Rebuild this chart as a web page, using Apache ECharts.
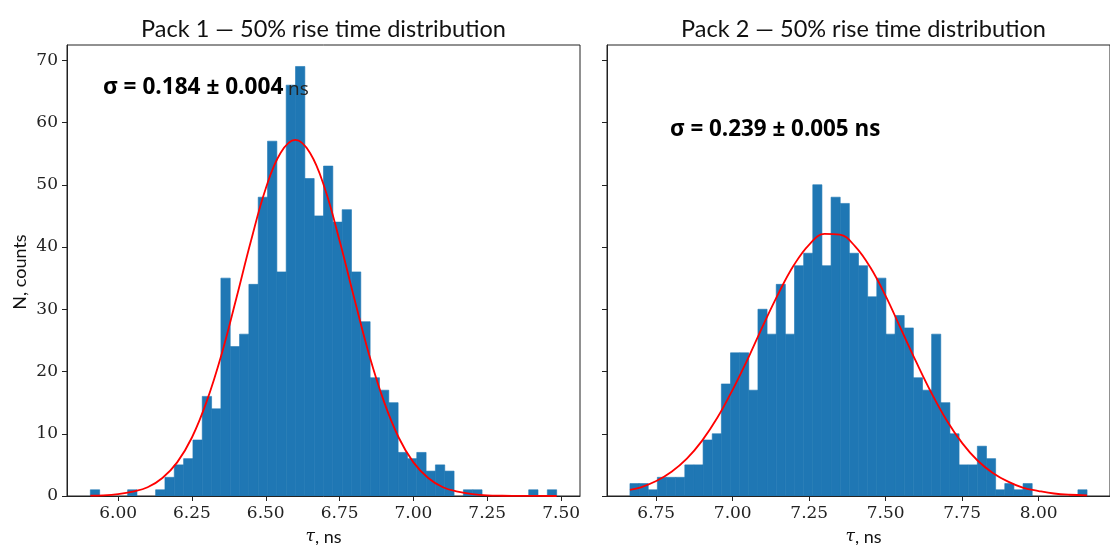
<!DOCTYPE html>
<html><head><meta charset="utf-8">
<script src="https://cdn.jsdelivr.net/npm/echarts@6/dist/echarts.min.js"></script>
<style>html,body{margin:0;padding:0;background:#fff}#c{width:1110px;height:545px}</style>
</head><body><div id="c"></div>
<script>
// ---- data ----
const pack1Start = 5.906, pack1BinWidth = 0.03158;
const pack1Counts = [1,0,0,0,1,0,0,1,3,5,6,9,16,14,35,24,26,34,48,57,36,66,69,51,45,53,44,46,36,28,19,17,15,7,6,7,4,5,4,0,1,1,0,0,0,0,0,1,0,1];
const pack2Start = 6.664, pack2BinWidth = 0.02988;
const pack2Counts = [2,2,1,3,3,3,5,5,9,10,18,23,23,17,30,26,34,26,37,39,50,37,48,47,39,37,32,35,26,29,27,19,17,26,15,10,5,5,8,6,1,2,1,2,0,0,0,0,0,1];
const pack1FitX = [5.906,5.95,6.00,6.05,6.10,6.15,6.20,6.25,6.30,6.35,6.40,6.45,6.50,6.55,6.60,6.65,6.70,6.75,6.80,6.85,6.90,6.95,7.00,7.05,7.10,7.15,7.20,7.25,7.30,7.35,7.40,7.485];
const pack1FitY = [0.05,0.1,0.3,0.7,1.4,2.9,5.4,9.4,15.2,22.7,31.7,41.0,49.4,55.1,57.2,55.1,49.4,41.0,31.7,22.7,15.2,9.4,5.4,2.9,1.4,0.7,0.3,0.1,0.04,0.02,0.01,0.0];
const pack2FitX = [6.664,6.70,6.75,6.80,6.85,6.90,6.95,7.00,7.05,7.10,7.15,7.20,7.25,7.30,7.35,7.40,7.45,7.50,7.55,7.60,7.65,7.70,7.75,7.80,7.85,7.90,7.95,8.00,8.05,8.10,8.158];
const pack2FitY = [1.0,1.4,2.4,3.9,6.0,8.9,12.6,17.1,22.1,27.5,32.6,37.1,40.4,42.1,42.0,40.1,36.7,32.1,26.8,21.5,16.5,12.1,8.5,5.7,3.7,2.3,1.3,0.8,0.4,0.2,0.1];
const pack1Ticks = [6.00,6.25,6.50,6.75,7.00,7.25,7.50];
const pack2Ticks = [6.75,7.00,7.25,7.50,7.75,8.00];
const countTicks = [0,10,20,30,40,50,60,70];
const titles = ['Pack 1 — 50% rise time distribution','Pack 2 — 50% rise time distribution'];
const sigma1Text = 'σ = 0.184 ± 0.004', sigma1Unit = 'ns';
const sigma2Text = 'σ = 0.239 ± 0.005 ns';
const yName = 'N, counts';

// ---- build ----
function bins(start, w, counts){ return counts.map((c,i)=>[start+i*w, start+(i+1)*w, c]); }
function pairs(xs, ys){ return xs.map((x,i)=>[x, ys[i]]); }
const AX = '#222';
const BAR = '#1f77b4';
const tickFont = {fontFamily:'DejaVu Serif', fontSize:17, color:'#222'};
function histItem(params, api){
  const p0 = api.coord([api.value(0), api.value(2)]);
  const p1 = api.coord([api.value(1), 0]);
  const h = p1[1]-p0[1];
  if (h <= 0) return null;
  return {type:'rect', shape:{x:p0[0], y:p0[1], width:p1[0]-p0[0], height:h},
    style:{fill:BAR, stroke:BAR, lineWidth:0.6}};
}
function xAxis(idx, min, max, ticks){
  return {type:'value', gridIndex:idx, min:min, max:max,
    axisLine:{show:true, onZero:false, lineStyle:{color:AX, width:1}},
    axisTick:{show:true, customValues:ticks, length:5, lineStyle:{color:AX}},
    axisLabel:Object.assign({customValues:ticks, formatter:v=>v.toFixed(2), margin:9}, tickFont),
    splitLine:{show:false}};
}
function yAxis(idx, showLabels){
  return {type:'value', gridIndex:idx, min:0, max:72.45,
    axisLine:{show:true, lineStyle:{color:AX, width:1}},
    axisTick:{show:true, customValues:countTicks, length:5, lineStyle:{color:AX}},
    axisLabel:Object.assign({show:showLabels, customValues:countTicks, margin:9}, tickFont),
    splitLine:{show:false}};
}
const sansTitle = 'Lato';
const option = {
  animation:false,
  backgroundColor:'#fff',
  grid:[
    {left:67, top:45, width:513, height:451, show:true, borderColor:AX, borderWidth:1},
    {left:607, top:45, width:513, height:451, show:true, borderColor:AX, borderWidth:1}
  ],
  xAxis:[xAxis(0, 5.827, 7.564, pack1Ticks), xAxis(1, 6.589, 8.233, pack2Ticks)],
  yAxis:[yAxis(0, true), yAxis(1, false)],
  series:[
    {type:'custom', xAxisIndex:0, yAxisIndex:0, renderItem:histItem, encode:{x:[0,1], y:2}, data:bins(pack1Start, pack1BinWidth, pack1Counts), clip:true},
    {type:'custom', xAxisIndex:1, yAxisIndex:1, renderItem:histItem, encode:{x:[0,1], y:2}, data:bins(pack2Start, pack2BinWidth, pack2Counts), clip:true},
    {type:'line', xAxisIndex:0, yAxisIndex:0, data:pairs(pack1FitX, pack1FitY), smooth:0.4, showSymbol:false, lineStyle:{color:'#ff0000', width:1.8}, z:5},
    {type:'line', xAxisIndex:1, yAxisIndex:1, data:pairs(pack2FitX, pack2FitY), smooth:0.4, showSymbol:false, lineStyle:{color:'#ff0000', width:1.8}, z:5}
  ],
  graphic:[
    {type:'text', style:{text:titles[0], x:323.5, y:29, align:'center', verticalAlign:'middle', fontFamily:sansTitle, fontSize:23.5, fill:'#111'}},
    {type:'text', style:{text:titles[1], x:863.5, y:29, align:'center', verticalAlign:'middle', fontFamily:sansTitle, fontSize:23.5, fill:'#111'}},
    {type:'text', rotation:Math.PI/2, x:20, y:272, style:{text:yName, x:0, y:0, align:'center', verticalAlign:'middle', fontFamily:sansTitle, fontSize:18, fill:'#111'}},
    {type:'text', style:{text:'{t|τ}{s|, ns}', x:323.5, y:537, align:'center', verticalAlign:'middle',
      rich:{t:{fontFamily:'DejaVu Serif', fontStyle:'italic', fontSize:17, fill:'#111'}, s:{fontFamily:sansTitle, fontSize:18, fill:'#111'}}}},
    {type:'text', style:{text:'{t|τ}{s|, ns}', x:863.5, y:537, align:'center', verticalAlign:'middle',
      rich:{t:{fontFamily:'DejaVu Serif', fontStyle:'italic', fontSize:17, fill:'#111'}, s:{fontFamily:sansTitle, fontSize:18, fill:'#111'}}}},
    {type:'text', z:10, style:{text:sigma1Text, x:103, y:88, align:'left', verticalAlign:'middle', fontFamily:'Open Sans', fontWeight:'bold', fontSize:22.6, fill:'#000'}},
    {type:'text', z:10, style:{text:sigma1Unit, x:288, y:90, align:'left', verticalAlign:'middle', fontFamily:'Open Sans', fontSize:19, fill:'#222'}},
    {type:'text', z:10, style:{text:sigma2Text, x:670, y:130, align:'left', verticalAlign:'middle', fontFamily:'Open Sans', fontWeight:'bold', fontSize:22.4, fill:'#000'}}
  ]
};
const chart = echarts.init(document.getElementById('c'), null, {renderer:'canvas'});
chart.setOption(option);
</script>
</body></html>
